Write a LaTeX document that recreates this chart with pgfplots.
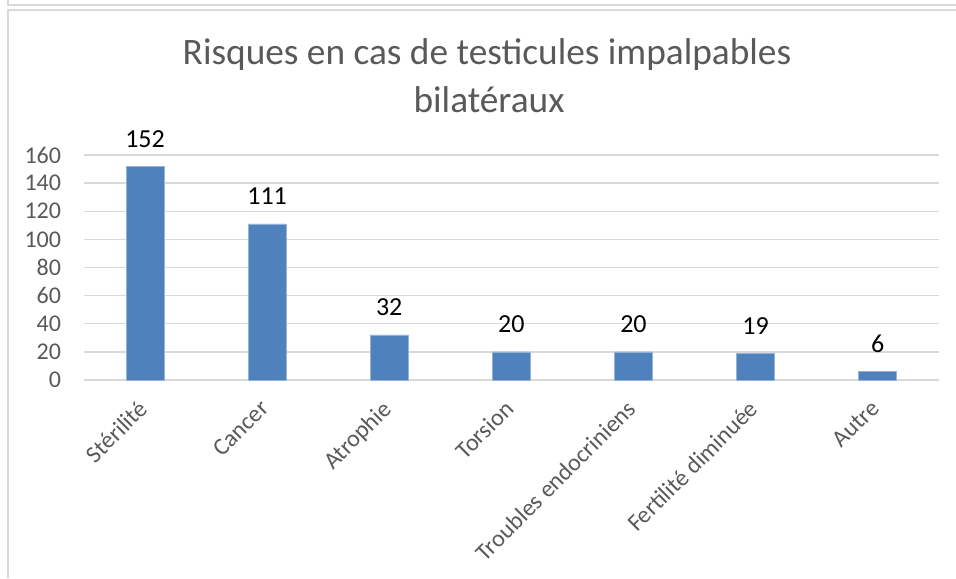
\documentclass[border=0pt]{standalone}
\usepackage{pgfplots}
\pgfplotsset{compat=1.18}
\usepackage{fontspec}
\setmainfont{Carlito}
\definecolor{barblue}{HTML}{4F81BD}
\definecolor{txtgray}{HTML}{595959}
\definecolor{gridgray}{HTML}{D9D9D9}
\begin{document}
\begin{tikzpicture}[x=0.75pt,y=0.75pt]
\path[use as bounding box] (0,0) rectangle (956,578);
\draw[gridgray, line width=1.5pt] (8,578) -- (8,573) -- (956,573);
\draw[gridgray, line width=1.5pt] (8,0) -- (8,568) -- (956,568);
\node[anchor=base, text=txtgray, font=\fontsize{28}{34}\selectfont, inner sep=0] at (487,513) {Risques en cas de testicules impalpables};
\node[anchor=base, text=txtgray, font=\fontsize{28}{34}\selectfont, inner sep=0] at (489,465) {bilatéraux};
\begin{axis}[
  at={(63pt,148.5pt)}, anchor=south west,
  width=641pt, height=168.75pt, scale only axis,
  xmin=-0.5, xmax=6.5, ymin=0, ymax=160,
  ytick={0,20,...,160},
  xtick={0,...,6},
  xticklabels={Stérilité,Cancer,Atrophie,Torsion,Troubles endocriniens,Fertilité diminuée,Autre},
  ymajorgrids, grid style={gridgray, line width=1pt},
  axis line style={draw=none},
  major tick length=0pt,
  /pgf/number format/assume math mode=true,
  yticklabel style={font=\fontsize{18}{21}\selectfont, text=txtgray, anchor=east, inner sep=0pt, xshift=-17pt},
  xticklabel style={xshift=-6pt, yshift=-14pt, rotate=45, anchor=north east, inner sep=0pt, font=\fontsize{18}{21}\selectfont, text=txtgray},
  ybar, bar width=28.5pt,
  nodes near coords,
  nodes near coords style={font=\fontsize{19.5}{22}\selectfont, text=black, anchor=south, inner sep=0pt, yshift=14pt},
]
\addplot[fill=barblue, draw=barblue!60!white, line width=0.5pt] coordinates {(0,152) (1,111) (2,32) (3,20) (4,20) (5,19) (6,6)};
\end{axis}
\end{tikzpicture}
\end{document}
